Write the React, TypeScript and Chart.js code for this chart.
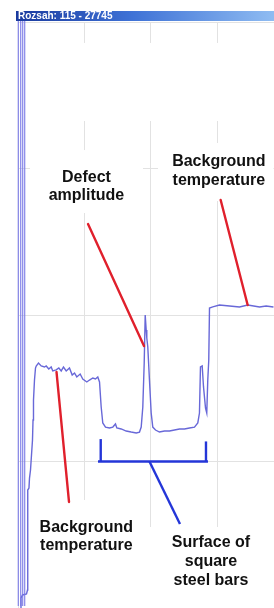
import React, { useEffect, useRef } from "react";
import { Chart, registerables } from "chart.js";

Chart.register(...registerables);

// Profile trace (arbitrary position units / relative temperature units)
const positions = [
  3.8, 4.5, 6.8, 12.8, 14.3, 14.3, 15.0, 16.5, 17.3, 18.8, 20.3, 21.8, 22.6, 23.3, 24.8, 26.3,
  27.4, 30.8, 34.9, 39.8, 42.4, 46.3, 49.9, 52.3, 57.4, 61.4, 65.0, 68.4, 72.5, 77.4, 81.5, 85.0,
  88.4, 93.5, 97.4, 103.5, 107.5, 112.5, 116.5, 120.0, 122.6,
  125.1, 127.5, 131.6, 137.6, 142.6, 146.6, 148.6, 155.2, 162.7, 170.2, 177.8, 182.7,
  185.3, 187.7, 189.8, 191.3, 192.8, 193.7, 195.2, 197.7, 200.3, 202.7,
  206.8, 212.8, 220.3, 227.8, 235.3, 242.9, 250.4, 257.9, 265.4, 270.4,
  272.9, 274.4, 277.0, 279.0, 282.0, 283.9, 285.4, 286.9, 288.0,
  292.9, 303.0, 318.1, 333.1, 345.6, 363.2, 373.2, 384.2,
];
const temperatures = [
  0, 6.8, 8.9, 9.6, 12.3, 73.7, 80.5, 81.9, 88.7, 94.2, 104.4, 114.7, 128.3, 142.0, 155.6, 163.8,
  165.2, 167.2, 165.2, 164.5, 165.2, 163.1, 164.5, 161.8, 162.5, 163.8, 161.8, 164.5, 161.8, 163.8, 159.0, 160.4,
  157.7, 159.7, 156.3, 154.3, 155.6, 157.0, 156.3, 157.7, 154.3,
  137.2, 126.3, 123.5, 122.9, 123.5, 125.6, 122.9, 122.2, 120.8, 120.1, 119.5, 120.1,
  123.5, 137.2, 167.2, 200.0, 189.8, 184.3, 178.2, 155.6, 133.1, 123.5,
  121.5, 120.1, 120.8, 120.8, 121.5, 122.2, 122.2, 122.9, 123.5, 126.3,
  133.1, 164.5, 165.2, 150.9, 136.5, 133.1, 155.6, 169.3, 204.8,
  205.5, 206.8, 206.1, 205.5, 206.8, 205.5, 206.1, 205.5,
];

const titleText = "Rozsah: 115 - 27745";

// Annotation labels: lines, anchor (center x, first baseline y) in data units
const labelLines = [
  ["Defect", "amplitude"],
  ["Background", "temperature"],
  ["Background", "temperature"],
  ["Surface of", "square", "steel bars"],
];
const labelAnchorX = [103.0, 302.0, 102.7, 290.2];
const labelAnchorY = [291.1, 301.4, 52.1, 41.8];
const labelLineHeight = [18, 18.5, 18, 19.3];

// Red pointers [x1, y1, x2, y2] in data units
const redPointers = [
  [105.3, 262.1, 189.5, 178.8],
  [304.8, 278.5, 345.4, 206.8],
  [57.9, 161.1, 76.7, 72.4],
];
// Blue bracket segments [x1, y1, x2, y2]
const bracketSegments = [
  [120.3, 100, 285.7, 100],
  [124.4, 115.3, 124.4, 100],
  [282.7, 113.7, 282.7, 100],
  [197.7, 100, 243.6, 57.3],
];
// White label backgrounds [x1, y1, x2, y2]
const whiteBoxes = [
  [12.0, 385.7, 384.2, 333.1],
  [18.0, 312.6, 188.0, 270.3],
  [210.5, 317.4, 384.2, 278.5],
  [18.0, 73.7, 191.0, 0],
  [191.0, 55.3, 384.2, 0],
];

const overlayPlugin = {
  id: "overlay",
  beforeDatasetsDraw(chart: any) {
    const { ctx, scales } = chart;
    const xs = scales.x, ys = scales.y;
    ctx.save();
    ctx.fillStyle = "#ffffff";
    for (const [x1, y1, x2, y2] of whiteBoxes) {
      const px1 = xs.getPixelForValue(x1), px2 = xs.getPixelForValue(x2);
      const py1 = ys.getPixelForValue(y1), py2 = ys.getPixelForValue(y2);
      ctx.fillRect(px1, py1, px2 - px1, py2 - py1 + 1);
    }
    ctx.restore();
  },
  afterDatasetsDraw(chart: any) {
    const { ctx, scales, chartArea } = chart;
    const xs = scales.x, ys = scales.y;
    ctx.save();
    ctx.lineCap = "round";
    // red pointers
    ctx.strokeStyle = "#e0202c";
    ctx.lineWidth = 2.4;
    for (const [x1, y1, x2, y2] of redPointers) {
      ctx.beginPath();
      ctx.moveTo(xs.getPixelForValue(x1), ys.getPixelForValue(y1));
      ctx.lineTo(xs.getPixelForValue(x2), ys.getPixelForValue(y2));
      ctx.stroke();
    }
    // blue bracket
    ctx.strokeStyle = "#2436d8";
    ctx.lineWidth = 2.4;
    ctx.lineCap = "butt";
    for (const [x1, y1, x2, y2] of bracketSegments) {
      ctx.beginPath();
      ctx.moveTo(xs.getPixelForValue(x1), ys.getPixelForValue(y1));
      ctx.lineTo(xs.getPixelForValue(x2), ys.getPixelForValue(y2));
      ctx.stroke();
    }
    // labels
    ctx.fillStyle = "#111111";
    ctx.font = "bold 16px 'Liberation Sans', Arial, sans-serif";
    ctx.textAlign = "center";
    ctx.textBaseline = "alphabetic";
    labelLines.forEach((lines, i) => {
      const cx = xs.getPixelForValue(labelAnchorX[i]);
      const by = ys.getPixelForValue(labelAnchorY[i]);
      lines.forEach((t, j) => ctx.fillText(t, cx, by + j * labelLineHeight[i]));
    });
    // left border lines
    ctx.strokeStyle = "rgba(120,120,230,0.9)";
    ctx.lineWidth = 1.2;
    const L = chartArea.left;
    for (const off of [0.3, 2.7, 4.7, 6.7]) {
      ctx.beginPath();
      ctx.moveTo(L + off, 18);
      ctx.lineTo(L + off, 606);
      ctx.stroke();
    }
    // title bar
    const g = ctx.createLinearGradient(16, 0, 274, 0);
    g.addColorStop(0, "#1a3a9e");
    g.addColorStop(0.45, "#3f72d6");
    g.addColorStop(1, "#8fbcf2");
    ctx.fillStyle = g;
    ctx.fillRect(16, 11, 258, 10);
    ctx.fillStyle = "#ffffff";
    ctx.font = "bold 10px 'Liberation Sans', Arial, sans-serif";
    ctx.textAlign = "left";
    ctx.textBaseline = "middle";
    ctx.fillText(titleText, 18, 16.5);
    ctx.restore();
  },
};

export default function App() {
  const ref = useRef<HTMLCanvasElement>(null);
  useEffect(() => {
    if (!ref.current) return;
    const data = positions.map((x, i) => ({ x, y: temperatures[i] }));
    const chart = new Chart(ref.current, {
      type: "line",
      data: {
        datasets: [
          {
            data,
            borderColor: "rgb(104,104,216)",
            borderWidth: 1.4,
            pointRadius: 0,
            tension: 0,
            fill: false,
          },
        ],
      },
      options: {
        animation: false,
        responsive: false,
        parsing: true,
        layout: { padding: { left: 18, top: 22, right: 0, bottom: 0 } },
        plugins: { legend: { display: false }, tooltip: { enabled: false }, title: { display: false } },
        scales: {
          x: {
            type: "linear",
            min: 0,
            max: 385,
            ticks: { display: false, stepSize: 100 },
            grid: { color: "#e2e2e2", drawTicks: false, lineWidth: 1 },
            border: { display: false },
          },
          y: {
            type: "linear",
            min: 0,
            max: 400,
            ticks: { display: false, stepSize: 100 },
            grid: { color: "#e2e2e2", drawTicks: false, lineWidth: 1 },
            border: { display: false },
          },
        },
      },
      plugins: [overlayPlugin],
    });
    return () => chart.destroy();
  }, []);
  return (
    <div style={{ position: "fixed", left: 0, top: 0, width: 274, height: 608, background: "#ffffff" }}>
      <canvas ref={ref} width={274} height={608} style={{ width: 274, height: 608, display: "block" }} />
    </div>
  );
}
